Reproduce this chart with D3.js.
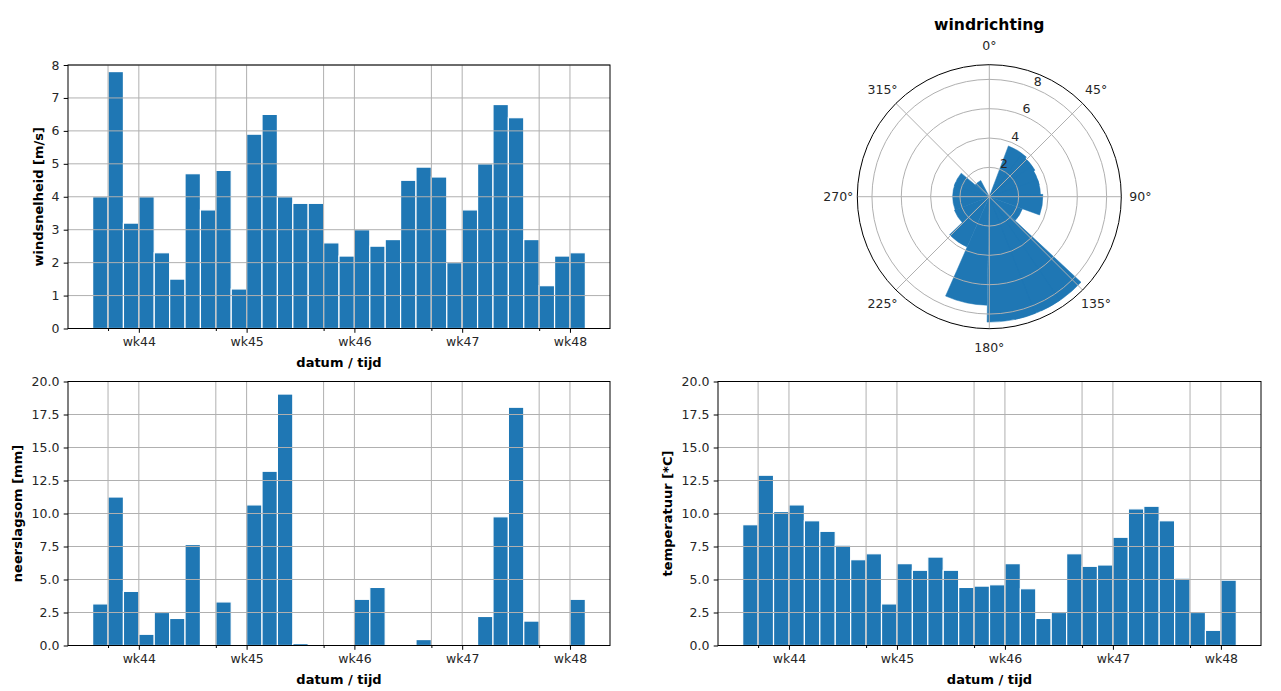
<!DOCTYPE html>
<html>
<head>
<meta charset="utf-8">
<script src="https://cdn.jsdelivr.net/npm/d3@7"></script>
<style>
  html, body { margin: 0; padding: 0; background: #fff; }
  svg { display: block; font-family: "DejaVu Sans", sans-serif; }
</style>
</head>
<body>
<svg id="chart" width="1281" height="691"></svg>
<script>
// ---------------- DATA ----------------
const dagen = ["2019-10-25","2019-10-26","2019-10-27","2019-10-28","2019-10-29","2019-10-30","2019-10-31",
  "2019-11-01","2019-11-02","2019-11-03","2019-11-04","2019-11-05","2019-11-06","2019-11-07","2019-11-08",
  "2019-11-09","2019-11-10","2019-11-11","2019-11-12","2019-11-13","2019-11-14","2019-11-15","2019-11-16",
  "2019-11-17","2019-11-18","2019-11-19","2019-11-20","2019-11-21","2019-11-22","2019-11-23","2019-11-24",
  "2019-11-25"];
const windsnelheid = [4.0,7.8,3.2,4.0,2.3,1.5,4.7,3.6,4.8,1.2,5.9,6.5,4.0,3.8,3.8,2.6,2.2,3.0,2.5,2.7,
  4.5,4.9,4.6,2.0,3.6,5.0,6.8,6.4,2.7,1.3,2.2,2.3];
const neerslag = [3.15,11.25,4.1,0.85,2.5,2.05,7.65,0,3.3,0,10.65,13.2,19.05,0.15,0,0,0,3.5,4.4,0,
  0,0.45,0,0,0,2.2,9.75,18.05,1.85,0,0,3.5];
const temperatuur = [9.15,12.9,10.15,10.65,9.45,8.65,7.6,6.5,6.95,3.15,6.2,5.7,6.7,5.7,4.4,4.5,
  4.6,6.2,4.3,2.05,2.5,6.95,6.0,6.1,8.2,10.35,10.55,9.45,5.1,2.5,1.15,4.95];
const weekLabels = ["wk44","wk45","wk46","wk47","wk48"];
const weekStarts = ["2019-10-28","2019-11-04","2019-11-11","2019-11-18","2019-11-25"];
const minorTicks = ["2019-10-26","2019-11-02","2019-11-09","2019-11-16","2019-11-23"];
const ticksWind = [0,1,2,3,4,5,6,7,8];
const ticksMm = [0,2.5,5,7.5,10,12.5,15,17.5,20];

// polar (windrichting): bar centre direction [deg], bar width [deg], radius
const richting = [31.85,48.6,65.3,82,98.75,121.5,144.25,157,169.75,192.5,215,237.5,259.5,281.25,298.75,321];
const breedte  = [22.5,22.5,22.5,22.5,22.5,22.5,22.5,22.5,22.5,22.5,22.5,22.5,22.5,22.5,22.5,22.5];
const kracht   = [3.7,3.6,3.5,3.5,3.65,2.4,8.55,8.55,8.55,7.4,3.75,2.55,2.5,2.5,2.5,1.25];
const thetaTicks = [0,45,90,135,180,225,270,315];
const rTicks = [2,4,6,8];

// ---------------- STYLE ----------------
const BLUE = "#1f77b4", GRID = "#b0b0b0";
const FS = 12.5, LFS = 13;
const svg = d3.select("#chart");
const parse = d3.utcParse("%Y-%m-%d");
const DAY = 864e5;

function barChart(box, values, yMax, yTicks, fmt, ylabel, ylabelX) {
  const g = svg.append("g");
  const dates = dagen.map(parse);
  const first = dates[0].getTime(), last = dates[dates.length-1].getTime() + DAY;
  const span = last - first;
  const x = d3.scaleUtc().domain([new Date(first - 0.05*span), new Date(last + 0.05*span)]).range([box.x0, box.x1]);
  const y = d3.scaleLinear().domain([0, yMax]).range([box.y1, box.y0]);

  // bars
  g.append("g").selectAll("rect").data(values).join("rect")
    .attr("x", (d,i) => x(dates[i]))
    .attr("width", (d,i) => x(new Date(dates[i].getTime()+DAY)) - x(dates[i]))
    .attr("y", d => y(d))
    .attr("height", d => y(0) - y(d))
    .attr("fill", BLUE).attr("stroke", "#fff").attr("stroke-width", 1.2);

  // grid (above bars)
  const grid = g.append("g").attr("stroke", GRID).attr("stroke-width", 1);
  grid.selectAll(".gy").data(yTicks).join("line")
    .attr("x1", box.x0).attr("x2", box.x1).attr("y1", d => y(d)).attr("y2", d => y(d));
  const vlines = weekStarts.concat(minorTicks).map(parse);
  grid.selectAll(".gx").data(vlines).join("line")
    .attr("y1", box.y0).attr("y2", box.y1).attr("x1", d => x(d)).attr("x2", d => x(d));

  // axes
  const ax = g.append("g").attr("transform", `translate(0,${box.y1})`)
    .call(d3.axisBottom(x).tickValues(weekStarts.map(parse)).tickFormat((d,i) => weekLabels[i]).tickSize(4.3).tickPadding(4.3).tickSizeOuter(0));
  ax.select(".domain").remove();
  ax.selectAll("text").attr("font-size", FS).attr("fill", "#262626").attr("font-family", "DejaVu Sans");
  const axm = g.append("g").attr("transform", `translate(0,${box.y1})`)
    .call(d3.axisBottom(x).tickValues(minorTicks.map(parse)).tickFormat("").tickSize(2.5).tickSizeOuter(0));
  axm.select(".domain").remove();
  const ay = g.append("g").attr("transform", `translate(${box.x0},0)`)
    .call(d3.axisLeft(y).tickValues(yTicks).tickFormat(fmt).tickSize(4.3).tickPadding(4.3).tickSizeOuter(0));
  ay.select(".domain").remove();
  ay.selectAll("text").attr("font-size", FS).attr("fill", "#262626").attr("font-family", "DejaVu Sans");

  // frame
  g.append("rect").attr("x", box.x0).attr("y", box.y0).attr("width", box.x1-box.x0).attr("height", box.y1-box.y0)
    .attr("fill", "none").attr("stroke", "#000").attr("stroke-width", 1);

  // labels
  g.append("text").attr("x", (box.x0+box.x1)/2).attr("y", box.y1 + 34).attr("text-anchor", "middle")
    .attr("dominant-baseline", "central").attr("font-weight", "bold").attr("font-size", LFS).text("datum / tijd");
  g.append("text").attr("transform", `translate(${ylabelX},${(box.y0+box.y1)/2}) rotate(-90)`)
    .attr("text-anchor", "middle").attr("dominant-baseline", "central")
    .attr("font-weight", "bold").attr("font-size", LFS).text(ylabel);
}

barChart({x0:68, x1:610, y0:65, y1:328.5}, windsnelheid, 8, ticksWind, d3.format("d"), "windsnelheid [m/s]", 38);
barChart({x0:68, x1:610, y0:381.5, y1:645.5}, neerslag, 20, ticksMm, d3.format(".1f"), "neerslagsom [mm]", 17);
barChart({x0:718, x1:1261, y0:381.5, y1:645.5}, temperatuur, 20, ticksMm, d3.format(".1f"), "temperatuur [*C]", 667);

// ---------------- POLAR ----------------
(function(){
  const cx = 989.3, cy = 196.7, R = 132;
  const r = d3.scaleLinear().domain([0, 9]).range([0, R]);
  const g = svg.append("g").attr("transform", `translate(${cx},${cy})`);
  const rad = Math.PI/180;
  const arc = d3.arc().innerRadius(0);
  g.append("g").selectAll("path").data(kracht).join("path")
    .attr("d", (d,i) => arc({outerRadius: r(d), startAngle: (richting[i]-breedte[i]/2)*rad, endAngle: (richting[i]+breedte[i]/2)*rad}))
    .attr("fill", BLUE).attr("stroke", BLUE).attr("stroke-width", 0.5);

  const grid = g.append("g").attr("stroke", GRID).attr("stroke-width", 1).attr("fill", "none");
  grid.selectAll("circle").data(rTicks).join("circle").attr("r", d => r(d));
  grid.selectAll("line").data(thetaTicks).join("line")
    .attr("x1", 0).attr("y1", 0)
    .attr("x2", d => R*Math.sin(d*rad)).attr("y2", d => -R*Math.cos(d*rad));
  g.append("circle").attr("r", R).attr("fill", "none").attr("stroke", "#000").attr("stroke-width", 1);

  g.append("g").selectAll("text").data(thetaTicks).join("text")
    .attr("x", d => 151*Math.sin(d*rad)).attr("y", d => -151*Math.cos(d*rad))
    .attr("text-anchor", "middle").attr("dominant-baseline", "central")
    .attr("font-size", FS).attr("fill", "#262626").text(d => d + "°");
  g.append("g").selectAll("text").data(rTicks).join("text")
    .attr("x", d => r(d)*Math.sin(22.5*rad) + 3.5).attr("y", d => -r(d)*Math.cos(22.5*rad) - 6.5)
    .attr("text-anchor", "middle").attr("dominant-baseline", "central")
    .attr("font-size", FS).attr("fill", "#262626").text(d => d);

  svg.append("text").attr("x", cx).attr("y", 24.5).attr("text-anchor", "middle").attr("dominant-baseline", "central")
    .attr("font-weight", "bold").attr("font-size", 15.6).text("windrichting");
})();
</script>
</body>
</html>
